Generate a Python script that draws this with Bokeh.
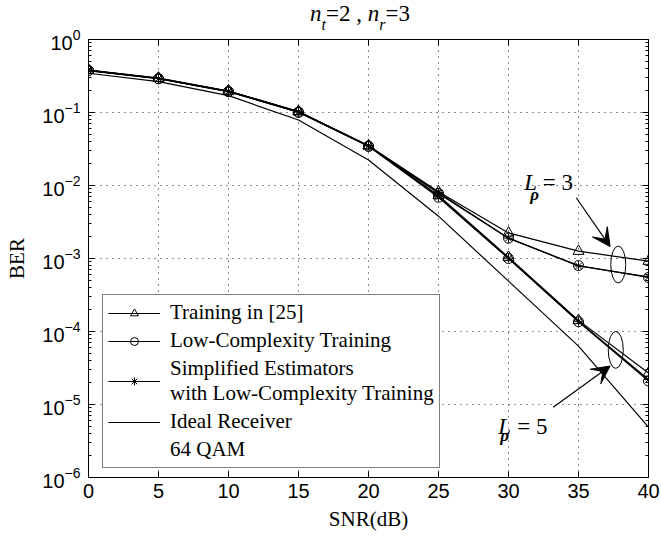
from bokeh.plotting import figure
from bokeh.layouts import column
from bokeh.models import (LogAxis, LinearAxis, Legend, LegendItem, Label, Arrow, VeeHead,
                          FixedTicker, Range1d, CustomJSTickFormatter, Div)
from bokeh.embed import file_html
from bokeh.resources import INLINE

# ---------------- data ----------------
snr = [0, 5, 10, 15, 20, 25, 30, 35, 40]

train25_L3 = [0.38, 0.295, 0.197, 0.103, 0.035, 0.0082, 0.00224, 0.00126, 0.00092]
train25_L5 = [0.38, 0.295, 0.197, 0.103, 0.035, 0.0073, 0.00104, 0.000142, 2.7e-5]

lowc_L3 = [0.375, 0.29, 0.193, 0.101, 0.0345, 0.0078, 0.0019, 0.0008, 0.00055]
lowc_L5 = [0.375, 0.29, 0.193, 0.101, 0.0345, 0.0069, 0.001, 0.000136, 2.1e-5]

simp_L3 = [0.378, 0.292, 0.195, 0.102, 0.035, 0.008, 0.0019, 0.00079, 0.00056]
simp_L5 = [0.378, 0.292, 0.195, 0.102, 0.035, 0.007, 0.00101, 0.000138, 2.2e-5]

ideal = [0.345, 0.265, 0.17, 0.079, 0.0224, 0.0038, 0.00049, 6.3e-5, 4.9e-6]

x_ticks = [0, 5, 10, 15, 20, 25, 30, 35, 40]
y_ticks = [1e-6, 1e-5, 1e-4, 1e-3, 1e-2, 1e-1, 1]

legend_labels = ["Training in [25]", "Low-Complexity Training",
                 "Simplified Estimators\nwith Low-Complexity Training",
                 "Ideal Receiver", "64 QAM"]

x_label = "SNR(dB)"
y_label = "BER"

SERIF = "Liberation Serif"
SANS = "Liberation Sans"

# ---------------- title strip (HTML, real text) ----------------
TH = 14          # height of the title strip (its text overflows into the border below)
TOP = 39 - TH    # border kept above the frame in the main figure
SUB = 'style="font-size:16px;vertical-align:-9px;line-height:0;"'
title_html = (
    '<div style="margin-left:310px;white-space:nowrap;font-family:\'Liberation Serif\',serif;'
    'font-size:23px;line-height:28px;color:black;">'
    '<i>n</i><sub ' + SUB + '><i>t</i></sub>=2 , '
    '<i>n</i><sub ' + SUB + '><i>r</i></sub>=3</div>'
)
title_div = Div(text=title_html, width=661, height=TH, margin=(0, 0, 0, 0),
                styles={"overflow": "visible", "z-index": "2", "position": "relative"})

# ---------------- main figure ----------------
p = figure(width=661, height=540 - TH, x_range=Range1d(0, 40), y_range=Range1d(1e-6, 1),
           y_axis_type="log", output_backend="svg", toolbar_location=None,
           min_border_left=88, min_border_right=13, min_border_top=TOP, min_border_bottom=63)
p.title.visible = False
p.background_fill_color = "white"
p.border_fill_color = None
p.outline_line_color = "black"
p.outline_line_width = 1

minor = [m * 10.0 ** e for e in range(-6, 0) for m in range(2, 10)]
yticker = FixedTicker(ticks=y_ticks, minor_ticks=minor)
xticker = FixedTicker(ticks=x_ticks)

p.xaxis.ticker = xticker
p.yaxis.ticker = yticker

for ax in (p.xaxis[0], p.yaxis[0]):
    ax.major_tick_in = 6
    ax.major_tick_out = 0
    ax.minor_tick_in = 3
    ax.minor_tick_out = 0
    ax.major_label_text_font = SANS
    ax.major_label_text_font_size = "20px"
    ax.major_label_text_color = "black"
    ax.axis_label_text_font = SERIF
    ax.axis_label_text_font_style = "normal"
    ax.axis_label_text_font_size = "21px"
    ax.axis_label_text_color = "black"
    ax.axis_line_color = "black"
    ax.major_tick_line_color = "black"
    ax.minor_tick_line_color = "black"

p.xaxis.minor_tick_in = 0
p.xaxis.axis_label = x_label
p.yaxis.axis_label = y_label
p.xaxis.major_label_standoff = 6
p.yaxis.major_label_standoff = 8
p.xaxis.axis_label_standoff = 6
p.yaxis.axis_label_standoff = 10

empty = CustomJSTickFormatter(code="return ''")
top_ax = LinearAxis(ticker=xticker, formatter=empty, major_tick_in=6, major_tick_out=0,
                    minor_tick_in=0, minor_tick_out=0, major_label_standoff=0)
right_ax = LogAxis(ticker=yticker, formatter=empty, major_tick_in=6, major_tick_out=0,
                   minor_tick_in=3, minor_tick_out=0, major_label_standoff=0)
p.add_layout(top_ax, "above")
p.add_layout(right_ax, "right")

for g in (p.xgrid[0], p.ygrid[0]):
    g.grid_line_color = "black"
    g.grid_line_dash = "1 5"
    g.grid_line_width = 1
    g.grid_line_alpha = 0.9
p.xgrid.ticker = xticker
p.ygrid.ticker = yticker

LW = 1.2
r_ideal = p.line(snr, ideal, line_color="black", line_width=LW)

t3l = p.line(snr, train25_L3, line_color="black", line_width=LW)
p.line(snr, train25_L5, line_color="black", line_width=LW)
t3m = p.scatter(snr, train25_L3, marker="triangle", size=11, fill_color=None, line_color="black", line_width=1)
p.scatter(snr, train25_L5, marker="triangle", size=11, fill_color=None, line_color="black", line_width=1)

c3l = p.line(snr, lowc_L3, line_color="black", line_width=LW)
p.line(snr, lowc_L5, line_color="black", line_width=LW)
c3m = p.scatter(snr, lowc_L3, marker="circle", size=10, fill_color=None, line_color="black", line_width=1)
p.scatter(snr, lowc_L5, marker="circle", size=10, fill_color=None, line_color="black", line_width=1)

s3l = p.line(snr, simp_L3, line_color="black", line_width=LW)
p.line(snr, simp_L5, line_color="black", line_width=LW)
s3m = p.scatter(snr, simp_L3, marker="asterisk", size=9, line_color="black", line_width=1)
p.scatter(snr, simp_L5, marker="asterisk", size=9, line_color="black", line_width=1)

r_none = p.line([], [], line_alpha=0)

p.ellipse(x=[37.84, 37.66], y=[0.000826, 5.6e-5], width=15, height=37,
          width_units="screen", height_units="screen", fill_color=None,
          line_color="black", line_width=1)

p.add_layout(Arrow(end=VeeHead(size=18, fill_color="black", line_color="black"),
                   x_start=34.84, y_start=0.00679, x_end=37.26, y_end=0.001455,
                   line_color="black", line_width=1.2))
p.add_layout(Arrow(end=VeeHead(size=18, fill_color="black", line_color="black"),
                   x_start=33.19, y_start=9.2e-6, x_end=37.26, y_end=3.37e-5,
                   line_color="black", line_width=1.2))

def lab(x, y, text, size, style="normal", font=SERIF):
    p.add_layout(Label(x=x, y=y, text=text, text_font=font, text_font_size=size,
                       text_font_style=style, text_color="black",
                       text_align="left", text_baseline="alphabetic"))

lab(31.12, 0.01089, "L", "23px", "italic")
lab(31.55, 0.00746, "ρ", "17px", "bold italic")
lab(32.45, 0.01089, "= 3", "23px")
lab(29.26, 5.06e-6, "L", "23px", "italic")
lab(29.41, 3.8e-6, "ρ", "17px", "bold italic")
lab(30.62, 5.06e-6, "= 5", "23px")

legend = Legend(items=[
    LegendItem(label=legend_labels[0], renderers=[t3l, t3m]),
    LegendItem(label=legend_labels[1], renderers=[c3l, c3m]),
    LegendItem(label=legend_labels[2], renderers=[s3l, s3m]),
    LegendItem(label=legend_labels[3], renderers=[r_ideal]),
    LegendItem(label=legend_labels[4], renderers=[r_none]),
], location=(14, 9))
legend.label_text_font = SERIF
legend.label_text_font_size = "21px"
legend.label_text_color = "black"
legend.border_line_color = "black"
legend.border_line_width = 1
legend.background_fill_color = "white"
legend.background_fill_alpha = 1
legend.glyph_width = 52
legend.glyph_height = 20
legend.label_height = 20
legend.spacing = 3
legend.padding = 5
legend.margin = 0
legend.label_standoff = 10
p.add_layout(legend)

layout = column(title_div, p, spacing=0)
open("out.html", "w").write(file_html(layout, INLINE))
